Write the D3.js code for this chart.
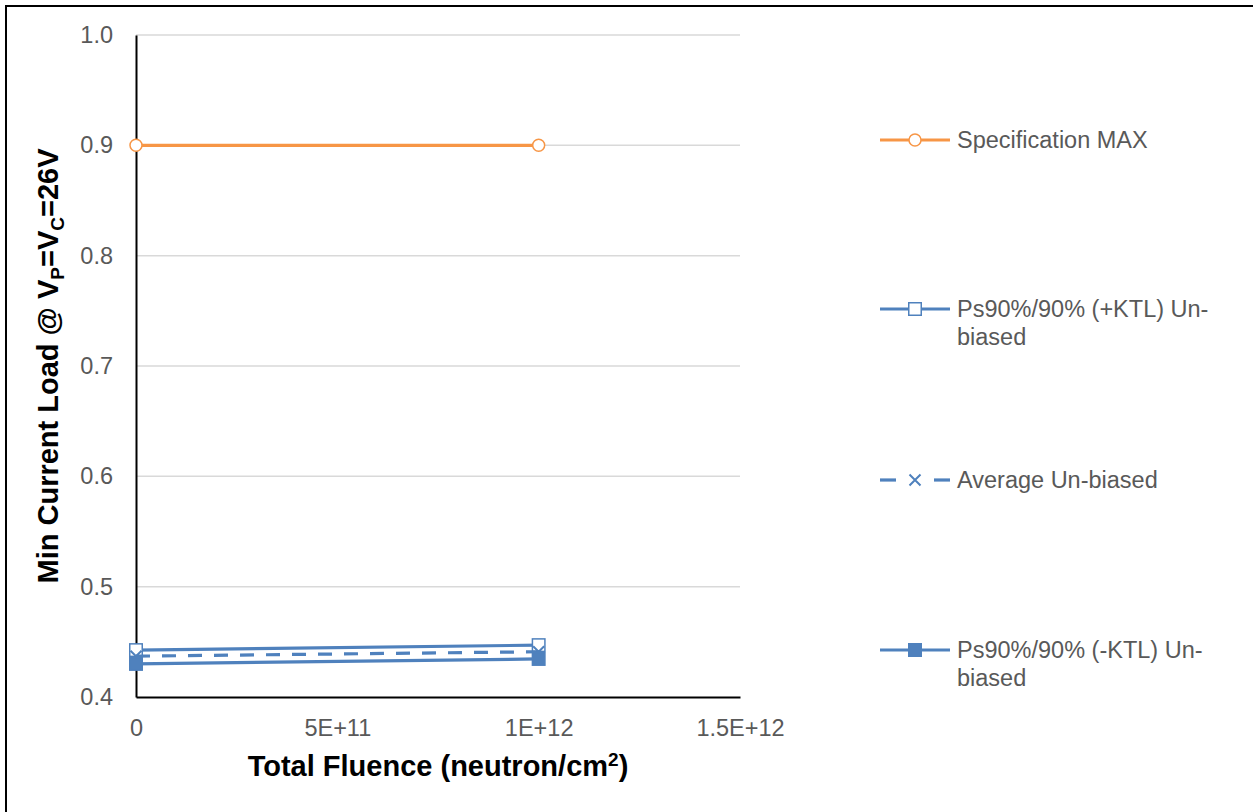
<!DOCTYPE html>
<html>
<head>
<meta charset="utf-8">
<script src="https://cdn.jsdelivr.net/npm/d3@7"></script>
<style>
  html, body { margin: 0; padding: 0; background: #fff; }
  svg { display: block; font-family: "Liberation Sans", Arial, sans-serif; }
</style>
</head>
<body>
<svg id="chart" width="1253" height="812"></svg>
<script>
// Fluence steps (neutron/cm²)
const fluence = [0, 1e12];

// Series values
const specMax  = [0.9, 0.9];
const ktlPlus  = [0.4425, 0.447];
const average  = [0.437, 0.441];
const ktlMinus = [0.430, 0.4345];

const seriesNames = [
  "Specification MAX",
  "Ps90%/90% (+KTL) Un-biased",
  "Average Un-biased",
  "Ps90%/90% (-KTL) Un-biased"
];

const xTicks = [0, 5e11, 1e12, 1.5e12];
const xTickLabels = ["0", "5E+11", "1E+12", "1.5E+12"];
const yTicks = [0.4, 0.5, 0.6, 0.7, 0.8, 0.9, 1.0];

const orange = "#F79646";
const blue = "#4F81BD";

const series = [
  { name: seriesNames[0], values: specMax,  color: orange, marker: "circle", dash: null },
  { name: seriesNames[1], values: ktlPlus,  color: blue,   marker: "squareOpen", dash: null },
  { name: seriesNames[2], values: average,  color: blue,   marker: "cross", dash: "14,12" },
  { name: seriesNames[3], values: ktlMinus, color: blue,   marker: "squareFilled", dash: null }
];

const svg = d3.select("#chart");

// Outer frame
svg.append("rect")
  .attr("x", 6).attr("y", 6)
  .attr("width", 1260).attr("height", 820)
  .attr("fill", "none").attr("stroke", "#000").attr("stroke-width", 2);

const plot = { left: 136, right: 740, top: 35, bottom: 697 };

const x = d3.scaleLinear().domain([0, 1.5e12]).range([plot.left, plot.right]);
const y = d3.scaleLinear().domain([0.4, 1.0]).range([plot.bottom, plot.top]);

// Horizontal gridlines
svg.append("g")
  .selectAll("line")
  .data(yTicks.filter(d => d > 0.4))
  .join("line")
  .attr("x1", plot.left).attr("x2", plot.right)
  .attr("y1", d => y(d)).attr("y2", d => y(d))
  .attr("stroke", "#D9D9D9").attr("stroke-width", 1.5);

// Y axis
const yAxis = svg.append("g")
  .attr("transform", `translate(${plot.left},0)`)
  .call(d3.axisLeft(y).tickValues(yTicks).tickFormat(d3.format(".1f")).tickSize(0).tickPadding(23));
yAxis.select(".domain").attr("stroke", "#000").attr("stroke-width", 2);
yAxis.selectAll("text").attr("fill", "#595959").style("font-size", "23.5px");

// X axis
const xAxis = svg.append("g")
  .attr("transform", `translate(0,${plot.bottom})`)
  .call(d3.axisBottom(x).tickValues(xTicks).tickFormat((d, i) => xTickLabels[i]).tickSize(0).tickPadding(22));
xAxis.select(".domain").attr("stroke", "#000").attr("stroke-width", 2);
xAxis.selectAll("text").attr("fill", "#595959").style("font-size", "23.5px");

// Axis titles
const yTitle = svg.append("text")
  .attr("transform", `translate(58,366) rotate(-90)`)
  .attr("text-anchor", "middle")
  .style("font-size", "29px").style("font-weight", "bold").attr("fill", "#000");
yTitle.append("tspan").text("Min Current Load @ V");
yTitle.append("tspan").text("P").style("font-size", "19px").attr("dy", 6);
yTitle.append("tspan").text("=V").attr("dy", -6);
yTitle.append("tspan").text("C").style("font-size", "19px").attr("dy", 6);
yTitle.append("tspan").text("=26V").attr("dy", -6);

const xTitle = svg.append("text")
  .attr("x", 438).attr("y", 776)
  .attr("text-anchor", "middle")
  .style("font-size", "29px").style("font-weight", "bold").attr("fill", "#000");
xTitle.append("tspan").text("Total Fluence (neutron/cm");
xTitle.append("tspan").text("2").style("font-size", "19px").attr("dy", -10);
xTitle.append("tspan").text(")").attr("dy", 10);

// Marker drawing
function drawMarker(g, type, color, cx, cy) {
  const s = 12.5;
  if (type === "circle") {
    g.append("circle").attr("cx", cx).attr("cy", cy).attr("r", 6)
      .attr("fill", "#fff").attr("stroke", color).attr("stroke-width", 1.5);
  } else if (type === "squareOpen") {
    g.append("rect").attr("x", cx - s / 2).attr("y", cy - s / 2).attr("width", s).attr("height", s)
      .attr("fill", "#fff").attr("stroke", color).attr("stroke-width", 1.5);
  } else if (type === "squareFilled") {
    g.append("rect").attr("x", cx - s / 2).attr("y", cy - s / 2).attr("width", s).attr("height", s)
      .attr("fill", color).attr("stroke", color).attr("stroke-width", 1.5);
  } else if (type === "cross") {
    const h = 5.5;
    g.append("path")
      .attr("d", `M${cx - h},${cy - h}L${cx + h},${cy + h}M${cx - h},${cy + h}L${cx + h},${cy - h}`)
      .attr("stroke", color).attr("stroke-width", 2).attr("fill", "none");
  }
}

const line = d3.line().x(d => x(d[0])).y(d => y(d[1]));

// Series lines and markers
series.forEach(s => {
  const pts = fluence.map((f, i) => [f, s.values[i]]);
  const g = svg.append("g");
  g.append("path")
    .attr("d", line(pts))
    .attr("fill", "none")
    .attr("stroke", s.color)
    .attr("stroke-width", 3.2)
    .attr("stroke-dasharray", s.dash);
  pts.forEach(p => drawMarker(g, s.marker, s.color, x(p[0]), y(p[1])));
});

// Legend
const legendY = [140, 309, 480, 650];
series.forEach((s, i) => {
  const g = svg.append("g").attr("transform", `translate(0,${legendY[i]})`);
  if (s.dash) {
    g.append("line").attr("x1", 880).attr("x2", 896).attr("y1", 0).attr("y2", 0)
      .attr("stroke", s.color).attr("stroke-width", 3.2);
    g.append("line").attr("x1", 934).attr("x2", 950).attr("y1", 0).attr("y2", 0)
      .attr("stroke", s.color).attr("stroke-width", 3.2);
  } else {
    g.append("line").attr("x1", 880).attr("x2", 950).attr("y1", 0).attr("y2", 0)
      .attr("stroke", s.color).attr("stroke-width", 3.2);
  }
  drawMarker(g, s.marker, s.color, 915, 0);
  const words = s.name.split("Un-");
  const t = g.append("text").attr("x", 957).attr("y", 8)
    .attr("fill", "#595959").style("font-size", "23.5px");
  if (s.name.includes("Ps90")) {
    t.append("tspan").attr("x", 957).attr("dy", 0).text(words[0] + "Un-");
    t.append("tspan").attr("x", 957).attr("dy", 28).text("biased");
  } else {
    t.text(s.name);
  }
});
</script>
</body>
</html>
